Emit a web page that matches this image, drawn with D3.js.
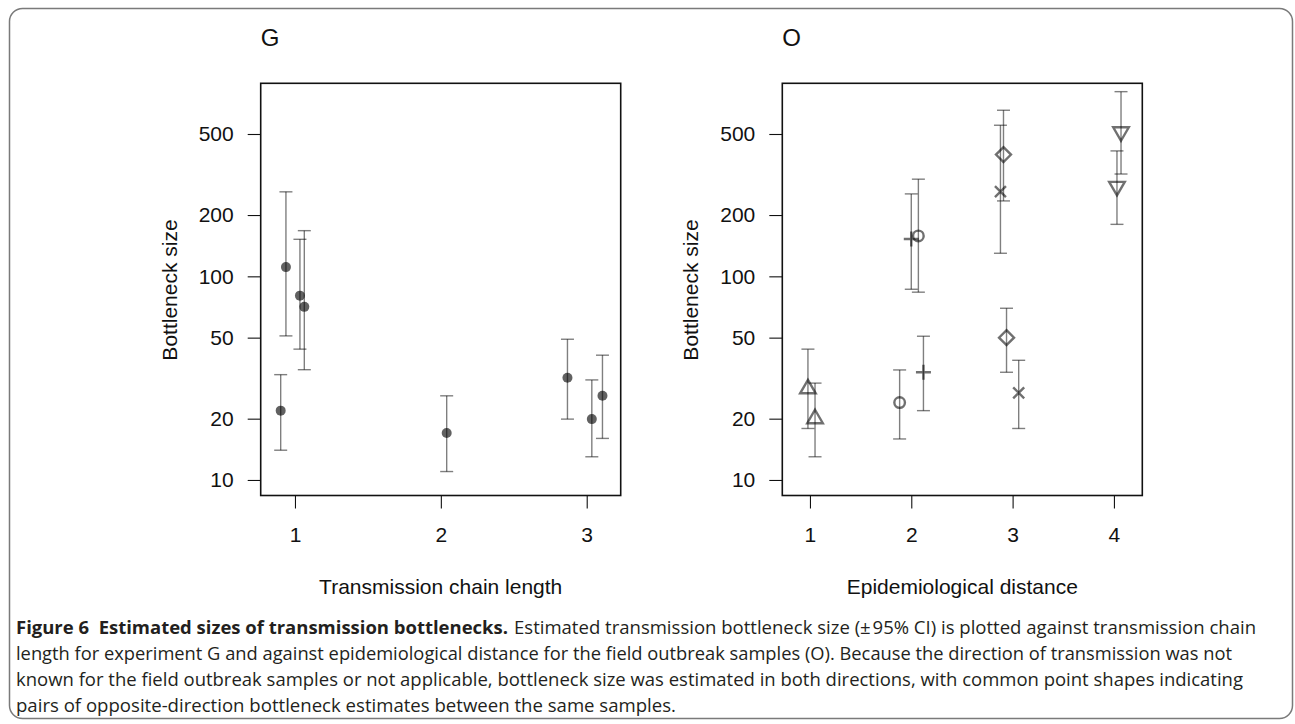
<!DOCTYPE html>
<html><head><meta charset="utf-8">
<script src="https://cdn.jsdelivr.net/npm/d3@7"></script>
<style>body{margin:0;background:#fff}svg{display:block}.pre{white-space:pre}</style>
</head><body><svg id="c" width="1295" height="724"></svg>
<script>
// ---- Data: panel G (experiment) ----
const gChainLength = [0.902, 0.938, 1.034, 1.064, 2.04, 2.868, 3.035, 3.108];
const gEstimate    = [21.9, 111, 80.4, 70.8, 17.0, 31.8, 19.9, 25.9];
const gLower       = [14.0, 51, 43.9, 34.8, 11.0, 19.9, 13.0, 16.0];
const gUpper       = [32.9, 260, 152, 167.6, 25.9, 49.1, 31.0, 41.0];

// ---- Data: panel O (field outbreak) ----
const oShape     = ["triUp","triUp","circle","plus","plus","circle","diamond","cross","diamond","cross","triDown","triDown"];
const oDistance  = [0.98, 1.05, 1.885, 2.12, 2.0, 2.07, 2.91, 2.88, 2.94, 3.06, 4.07, 4.03];
const oEstimate  = [28.2, 20.1, 24.0, 33.8, 152.6, 158, 396, 260.6, 50, 26.8, 510, 275];
const oLower     = [17.9, 13.0, 15.9, 21.9, 86.4, 83.6, 234.6, 129.8, 33.8, 17.9, 318, 180];
const oUpper     = [43.9, 29.9, 34.7, 50.8, 254, 300, 654, 552, 69.7, 38.7, 807, 413];

// ---- Tick labels ----
const yTicks  = [10, 20, 50, 100, 200, 500];
const gXTicks = [1, 2, 3];
const oXTicks = [1, 2, 3, 4];

const captionBold = "Figure 6  Estimated sizes of transmission bottlenecks.";
const captionLines = [
  "Estimated transmission bottleneck size (\u00b1\u200a95% CI) is plotted against transmission chain",
  "length for experiment G and against epidemiological distance for the field outbreak samples (O). Because the direction of transmission was not",
  "known for the field outbreak samples or not applicable, bottleneck size was estimated in both directions, with common point shapes indicating",
  "pairs of opposite-direction bottleneck estimates between the same samples."
];

const svg = d3.select("#c");
const FONT = "'Liberation Sans', Arial, Helvetica, sans-serif";

// outer border
svg.append("rect").attr("x", 9.5).attr("y", 8.5).attr("width", 1283).attr("height", 710)
  .attr("rx", 13).attr("fill", "none").attr("stroke", "#7a7a7a").attr("stroke-width", 1.5);

const plotTop = 83.3, plotBottom = 495.5;
const y = d3.scaleLog().domain([8.39, 887]).range([plotBottom, plotTop]);

const ink = "rgba(0,0,0,0.56)";
const barInk = "rgba(0,0,0,0.5)";

function panel(opts) {
  const g = svg.append("g");
  const x = d3.scaleLinear().domain(opts.xDomain).range([opts.left, opts.right]);
  g.append("rect").attr("x", opts.left).attr("y", plotTop)
    .attr("width", opts.right - opts.left).attr("height", plotBottom - plotTop)
    .attr("fill", "none").attr("stroke", "#111").attr("stroke-width", 1.6);
  const ya = g.append("g").attr("transform", `translate(${opts.left},0)`)
    .call(d3.axisLeft(y).tickValues(yTicks).tickFormat(d3.format("d")).tickSize(13).tickPadding(14));
  ya.select(".domain").remove();
  ya.selectAll("line").attr("stroke", "#111").attr("stroke-width", 1.1);
  ya.selectAll("text").attr("font-family", FONT).attr("font-size", 21).attr("fill", "#111");
  const xa = g.append("g").attr("transform", `translate(0,${plotBottom})`)
    .call(d3.axisBottom(x).tickValues(opts.xTicks).tickFormat(d3.format("d")).tickSize(13).tickPadding(19));
  xa.select(".domain").remove();
  xa.selectAll("line").attr("stroke", "#111").attr("stroke-width", 1.1);
  xa.selectAll("text").attr("font-family", FONT).attr("font-size", 21).attr("fill", "#111");
  g.append("text").attr("x", opts.left).attr("y", 46).attr("font-family", FONT)
    .attr("font-size", 24).attr("fill", "#111").text(opts.title);
  g.append("text").attr("x", (opts.left + opts.right) / 2).attr("y", 594)
    .attr("text-anchor", "middle").attr("font-family", FONT).attr("font-size", 21)
    .attr("fill", "#111").text(opts.xLabel);
  g.append("text").attr("transform", `translate(${opts.yLabelX},290) rotate(-90)`)
    .attr("text-anchor", "middle").attr("font-family", FONT).attr("font-size", 21)
    .attr("fill", "#111").text("Bottleneck size");
  const idx = d3.range(opts.xs.length);
  const cap = 6.5;
  const eb = g.append("g").attr("stroke", barInk).attr("stroke-width", 1.4).attr("fill", "none");
  idx.forEach(i => {
    const cx = x(opts.xs[i]), y1 = y(opts.lo[i]), y2 = y(opts.hi[i]);
    eb.append("line").attr("x1", cx).attr("x2", cx).attr("y1", y1).attr("y2", y2);
    eb.append("line").attr("x1", cx - cap).attr("x2", cx + cap).attr("y1", y1).attr("y2", y1);
    eb.append("line").attr("x1", cx - cap).attr("x2", cx + cap).attr("y1", y2).attr("y2", y2);
  });
  return {g, x, idx};
}

// Panel G
const pG = panel({left: 260.7, right: 620.7, xDomain: [0.765, 3.233], xTicks: gXTicks,
  title: "G", xLabel: "Transmission chain length", yLabelX: 177,
  xs: gChainLength, lo: gLower, hi: gUpper});
pG.g.append("g").selectAll("circle").data(pG.idx).join("circle")
  .attr("cx", i => pG.x(gChainLength[i])).attr("cy", i => y(gEstimate[i]))
  .attr("r", 5).attr("fill", "rgba(0,0,0,0.62)");

// Panel O
const pO = panel({left: 782.3, right: 1142.3, xDomain: [0.727, 4.28], xTicks: oXTicks,
  title: "O", xLabel: "Epidemiological distance", yLabelX: 698,
  xs: oDistance, lo: oLower, hi: oUpper});

function shapePath(type) {
  switch (type) {
    case "triUp":   return "M0,-8.5L7.8,5L-7.8,5Z";
    case "triDown": return "M0,8.5L7.8,-5L-7.8,-5Z";
    case "diamond": return "M0,-7.5L7.5,0L0,7.5L-7.5,0Z";
    case "plus":    return "M-7.5,0H7.5M0,-7.5V7.5";
    case "cross":   return "M-5.5,-5.5L5.5,5.5M-5.5,5.5L5.5,-5.5";
    default:        return "";
  }
}
const mk = pO.g.append("g").attr("fill", "none").attr("stroke", ink).attr("stroke-width", 2.4);
pO.idx.forEach(i => {
  const cx = pO.x(oDistance[i]), cy = y(oEstimate[i]);
  if (oShape[i] === "circle") {
    mk.append("circle").attr("cx", cx).attr("cy", cy).attr("r", 5.3);
  } else {
    mk.append("path").attr("transform", `translate(${cx},${cy})`).attr("d", shapePath(oShape[i]));
  }
});

// Caption
const CAP = "'Open Sans', 'Noto Sans', sans-serif";
const capColor = "#231f20";
const lineY = [634, 660, 686, 712];
svg.append("text").attr("class", "pre").attr("x", 16).attr("y", lineY[0]).attr("font-family", CAP)
  .attr("font-size", 18.5).attr("font-weight", "bold").attr("fill", capColor)
  .attr("textLength", 492).attr("lengthAdjust", "spacingAndGlyphs").text(captionBold);
const lineStarts = [514, 16, 16, 16];
const lineEnds = [1256, 1232, 1243, 676];
captionLines.forEach((t, i) => {
  svg.append("text").attr("x", lineStarts[i]).attr("y", lineY[i]).attr("font-family", CAP)
    .attr("font-size", 18.5).attr("fill", capColor)
    .attr("textLength", lineEnds[i] - lineStarts[i]).attr("lengthAdjust", "spacingAndGlyphs").text(t);
});
</script>
</body></html>
